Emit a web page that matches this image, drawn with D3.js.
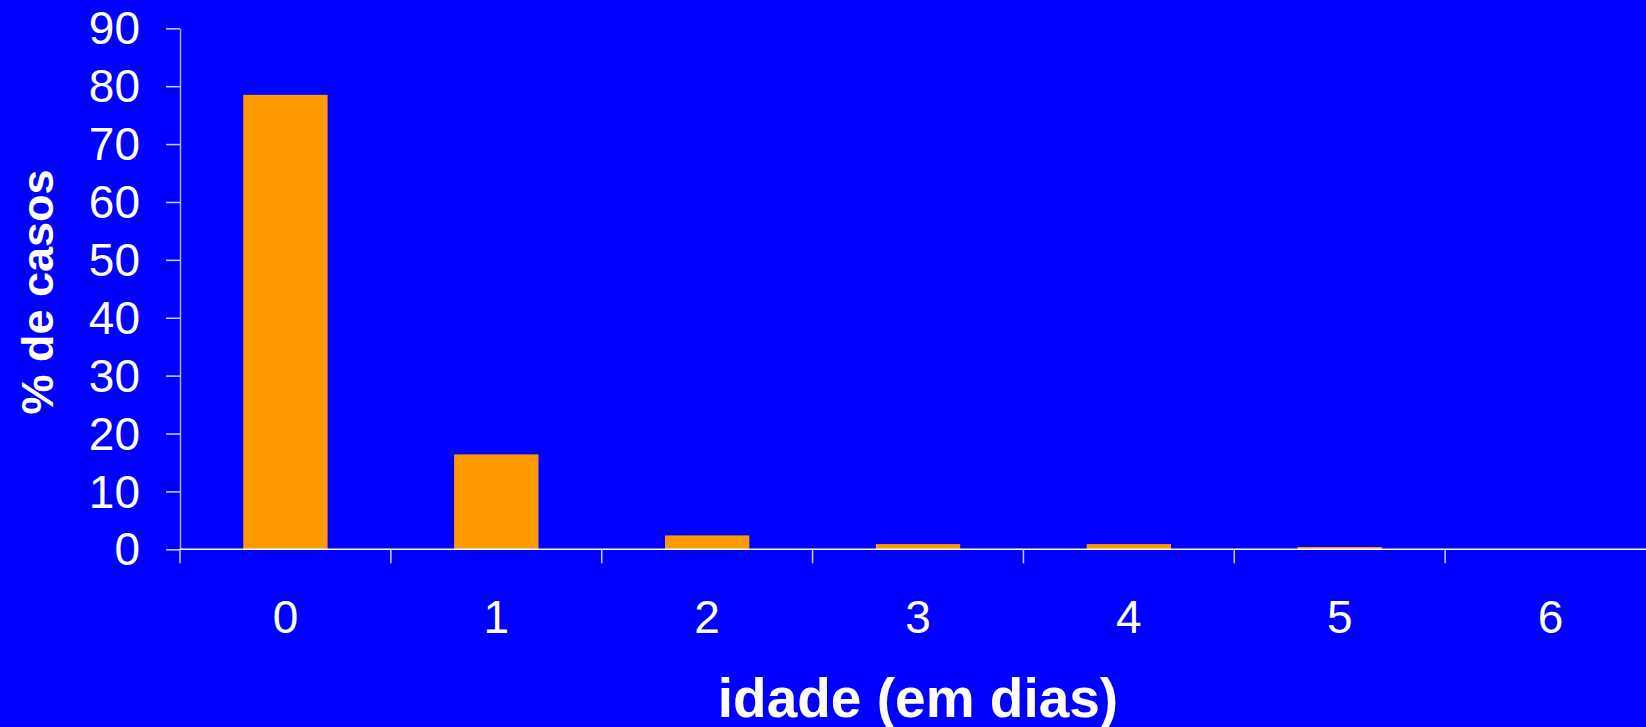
<!DOCTYPE html>
<html><head><meta charset="utf-8">
<script src="https://cdn.jsdelivr.net/npm/d3@7"></script>
<style>html,body{margin:0;padding:0;background:#0000ff;overflow:hidden}svg{display:block}</style>
</head><body>
<script>
const categories = ["0","1","2","3","4","5","6"];
const values = [78.5, 16.4, 2.4, 0.9, 0.9, 0.4, 0];
const yTicks = [0,10,20,30,40,50,60,70,80,90];
const xTitle = "idade (em dias)";
const yTitle = "% de casos";

const W = 1646, H = 727;
const mLeft = 180, mRight = 1656, mTop = 28.3, mBottom = 549.3;
const svg = d3.select("body").append("svg").attr("width", W).attr("height", H);
svg.append("rect").attr("width", W).attr("height", H).attr("fill", "#0000ff");

const x = d3.scaleBand().domain(categories).range([mLeft, mRight]).paddingInner(0.6).paddingOuter(0.3);
const y = d3.scaleLinear().domain([0, 90]).range([mBottom, mTop]);
const font = "'Liberation Sans', Arial, sans-serif";

// bars
svg.selectAll("rect.bar").data(values).join("rect").attr("class","bar")
  .attr("x", (d,i) => x(categories[i]))
  .attr("width", x.bandwidth())
  .attr("y", d => y(d))
  .attr("height", d => y(0) - y(d))
  .attr("fill", "#ff9900");

// y axis
const gy = svg.append("g").attr("transform", `translate(${mLeft},0)`)
  .call(d3.axisLeft(y).tickValues(yTicks).tickSize(14).tickPadding(26).tickSizeOuter(0));
gy.select(".domain").attr("stroke", "#a8a8ff").attr("stroke-width", 1.5);
gy.selectAll(".tick line").attr("stroke", "#d0d0ff").attr("stroke-width", 1.5);
gy.selectAll(".tick text").attr("fill", "#fff").style("font-family", font).style("font-size", "46px").attr("dy", "0.34em");

// x axis line
svg.append("line").attr("x1", mLeft).attr("x2", W).attr("y1", y(0)).attr("y2", y(0))
  .attr("stroke", "#fff").attr("stroke-width", 1.5);

// x ticks at band boundaries
const bounds = categories.map((c,i) => i);
svg.selectAll("line.xt").data(bounds).join("line").attr("class","xt")
  .attr("x1", i => x(categories[i]) - x.step()*x.paddingInner()/2)
  .attr("x2", i => x(categories[i]) - x.step()*x.paddingInner()/2)
  .attr("y1", y(0)).attr("y2", y(0) + 14)
  .attr("stroke", "#d0d0ff").attr("stroke-width", 1.5);

// x labels
svg.selectAll("text.xl").data(categories).join("text").attr("class","xl")
  .attr("x", d => x(d) + x.bandwidth()/2)
  .attr("y", 632.5)
  .attr("text-anchor", "middle")
  .attr("fill", "#fff").style("font-family", font).style("font-size", "46px")
  .text(d => d);

// titles
svg.append("text").attr("x", (mLeft + mRight)/2).attr("y", 716.5)
  .attr("text-anchor", "middle").attr("fill", "#fff")
  .style("font-family", font).style("font-size", "55px").style("font-weight", "bold")
  .text(xTitle);

svg.append("text").attr("transform", "translate(53,292) rotate(-90)")
  .attr("text-anchor", "middle").attr("fill", "#fff")
  .style("font-family", font).style("font-size", "45px").style("font-weight", "bold")
  .text(yTitle);
</script>
</body></html>
